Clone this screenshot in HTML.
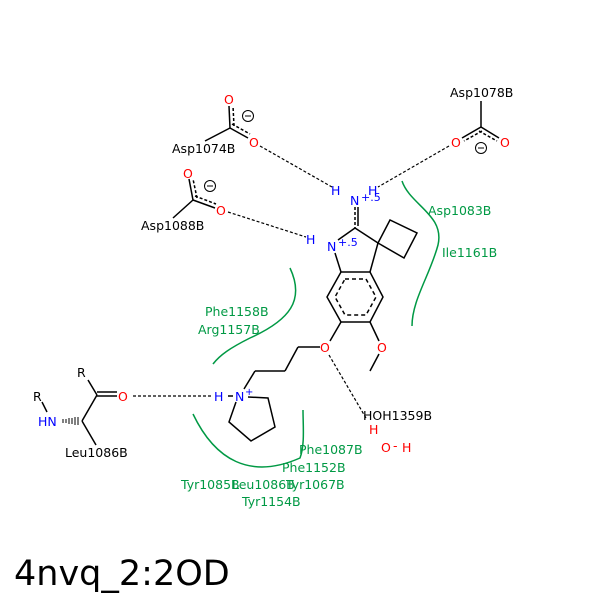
<!DOCTYPE html>
<html><head><meta charset="utf-8"><style>
html,body{margin:0;padding:0;background:#fff}
svg text{font-family:"DejaVu Sans","Liberation Sans",sans-serif;font-size:12.5px}
.k{fill:#000}.r{fill:#f00}.b{fill:#00f}.g{fill:#009944}
</style></head><body>
<svg width="600" height="600" viewBox="0 0 600 600" xmlns="http://www.w3.org/2000/svg">
<rect width="600" height="600" fill="#fff"/>
<g stroke="#000" stroke-width="1.5" fill="none">
<line x1="205" y1="141" x2="230" y2="128"/>
<line x1="230" y1="128" x2="229" y2="106"/><line x1="234" y1="126" x2="233" y2="106" stroke-dasharray="3,2"/>
<line x1="230" y1="128" x2="248" y2="138"/><line x1="232" y1="124" x2="250" y2="134" stroke-dasharray="3,2"/>
<line x1="481" y1="101" x2="481" y2="127"/>
<line x1="481" y1="127" x2="462" y2="138"/><line x1="482" y1="131" x2="464" y2="141" stroke-dasharray="3,2"/>
<line x1="481" y1="127" x2="499" y2="138"/><line x1="479" y1="131" x2="497" y2="141" stroke-dasharray="3,2"/>
<line x1="173" y1="218" x2="193" y2="200"/>
<line x1="193" y1="200" x2="189" y2="179"/><line x1="197" y1="198" x2="193" y2="179" stroke-dasharray="3,2"/>
<line x1="193" y1="200" x2="215" y2="208"/><line x1="195" y1="196" x2="216" y2="204" stroke-dasharray="3,2"/>
<line x1="355" y1="207" x2="355" y2="228" stroke-dasharray="3,2"/><line x1="358" y1="207" x2="358" y2="226"/>
<line x1="355" y1="228" x2="338" y2="240"/>
<line x1="355" y1="228" x2="378" y2="243"/>
<line x1="335" y1="253" x2="341" y2="272"/>
<line x1="378" y1="243" x2="370" y2="272"/>
<polygon points="378,243 390,220 417,233 404,258"/>
<polygon points="341,272 370,272 383,297 370,322 341,322 327,297"/>
<polygon points="345,279 366,279 376,297 366,315 345,315 335,297" stroke-dasharray="4,3"/>
<line x1="341" y1="322" x2="330" y2="341"/>
<line x1="370" y1="322" x2="379" y2="341"/>
<line x1="379" y1="354" x2="370" y2="371"/>
<line x1="320" y1="347" x2="298" y2="347"/>
<line x1="298" y1="347" x2="285" y2="371"/>
<line x1="285" y1="371" x2="255" y2="371"/>
<line x1="255" y1="371" x2="244" y2="389"/>
<polyline points="248,397 268,398 275,427 251,441 229,422 236,402"/>
<line x1="228" y1="396" x2="233" y2="396"/>
<line x1="97" y1="396" x2="117" y2="396"/><line x1="97" y1="392" x2="117" y2="392"/>
<line x1="88" y1="380" x2="97" y2="395"/>
<line x1="97" y1="395" x2="82" y2="421"/>
<line x1="82" y1="421" x2="96" y2="445"/>
<line x1="42" y1="402" x2="47" y2="412"/>
</g>
<g stroke="#000" stroke-width="1">
<line x1="63" y1="419" x2="63" y2="423"/><line x1="66" y1="419" x2="66" y2="423"/><line x1="69" y1="418" x2="69" y2="424"/><line x1="72" y1="418" x2="72" y2="424"/><line x1="75" y1="417" x2="75" y2="425"/><line x1="78" y1="417" x2="78" y2="425"/>
</g>
<g stroke="#000" stroke-width="1.2" fill="none" stroke-dasharray="3,2">
<line x1="260" y1="146" x2="332" y2="187"/>
<line x1="449" y1="146" x2="378" y2="187"/>
<line x1="228" y1="212" x2="306" y2="237"/>
<line x1="133" y1="396" x2="212" y2="396"/>
<line x1="329" y1="355" x2="366" y2="418"/>
</g>
<g stroke="#009944" stroke-width="1.5" fill="none">
<path d="M402,181 C410,205 445,215 438,245 C430,275 412,300 412,326"/>
<path d="M290,268 C305,300 290,320 250,338 C230,348 220,355 213,364"/>
<path d="M193,414 C215,460 250,480 300,458 C305,445 303,425 303,410"/>
</g>
<g>
<circle cx="248" cy="116" r="5.5" fill="none" stroke="#000"/><line x1="245" y1="116" x2="251" y2="116" stroke="#000"/>
<circle cx="481" cy="148" r="5.5" fill="none" stroke="#000"/><line x1="478" y1="148" x2="484" y2="148" stroke="#000"/>
<circle cx="210" cy="186" r="5.5" fill="none" stroke="#000"/><line x1="207" y1="186" x2="213" y2="186" stroke="#000"/>
</g>
<text x="172" y="153" class="k">Asp1074B</text>
<text x="450" y="97" class="k">Asp1078B</text>
<text x="141" y="230" class="k">Asp1088B</text>
<text x="224" y="104" class="r">O</text>
<text x="249" y="147" class="r">O</text>
<text x="451" y="147" class="r">O</text>
<text x="500" y="147" class="r">O</text>
<text x="183" y="178" class="r">O</text>
<text x="216" y="215" class="r">O</text>
<text x="331" y="195" class="b">H</text>
<text x="368" y="195" class="b">H</text>
<text x="350" y="205" class="b">N</text>
<text x="361" y="201" class="b" style="font-size:11px">+.5</text>
<text x="306" y="244" class="b">H</text>
<text x="327" y="251" class="b">N</text>
<text x="338" y="246" class="b" style="font-size:11px">+.5</text>
<text x="320" y="352" class="r">O</text>
<text x="377" y="352" class="r">O</text>
<text x="214" y="401" class="b">H</text>
<text x="235" y="401" class="b">N</text>
<text x="245" y="395" class="b" style="font-size:10px">+</text>
<text x="118" y="401" class="r">O</text>
<text x="77" y="377" class="k">R</text>
<text x="33" y="401" class="k">R</text>
<text x="38" y="426" class="b">HN</text>
<text x="65" y="457" class="k">Leu1086B</text>
<text x="363" y="420" class="k">HOH1359B</text>
<text x="369" y="434" class="r">H</text>
<text x="381" y="452" class="r">O</text>
<text x="393" y="450" class="r">-</text>
<text x="402" y="452" class="r">H</text>
<text x="428" y="215" class="g">Asp1083B</text>
<text x="442" y="257" class="g">Ile1161B</text>
<text x="205" y="316" class="g">Phe1158B</text>
<text x="198" y="334" class="g">Arg1157B</text>
<text x="299" y="454" class="g">Phe1087B</text>
<text x="282" y="472" class="g">Phe1152B</text>
<text x="181" y="489" class="g">Tyr1085B</text>
<text x="232" y="489" class="g">Leu1086B</text>
<text x="286" y="489" class="g">Tyr1067B</text>
<text x="242" y="506" class="g">Tyr1154B</text>
<text x="14" y="585" class="k" style="font-size:35px">4nvq_2:2OD</text>
</svg>
</body></html>
